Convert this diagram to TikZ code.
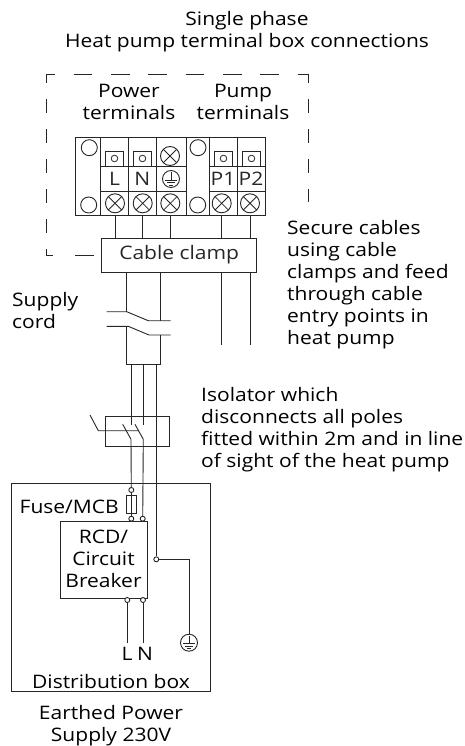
\documentclass[tikz,border=0pt]{standalone}
\usepackage{fontspec}
\setmainfont[FakeStretch=1.13]{Open Sans}
\tikzset{
  wire/.style={draw,line width=0.9pt,black!85},
  label/.style={inner sep=0pt,align=center,font=\fontsize{18.6}{22}\selectfont},
  notes/.style={label,align=left,anchor=north west},
  box/.style={draw,line width=0.9pt,black!85,inner sep=0pt},
  cell/.style={box,minimum height=25pt,font=\fontsize{18.6}{20}\selectfont},
  hole/.style={box,circle,minimum size=16pt},
  tiny/.style={box,circle,fill=white,minimum size=5pt},
  xterm/.style={box,circle,minimum size=19pt,path picture={
    \draw[line width=0.8pt] (path picture bounding box.north west) -- (path picture bounding box.south east);
    \draw[line width=0.8pt] (path picture bounding box.north east) -- (path picture bounding box.south west);}},
  sqterm/.style={box,minimum width=18pt,minimum height=15pt,path picture={
    \draw[line width=0.8pt] (path picture bounding box.center) circle (3.3pt);}},
  earth/.style={box,circle,minimum size=17pt,path picture={
    \draw[line width=0.7pt] ([yshift=7pt]path picture bounding box.center) -- ([yshift=-1pt]path picture bounding box.center);
    \draw[line width=0.7pt] ([shift={(-6pt,-1pt)}]path picture bounding box.center) -- ([shift={(6pt,-1pt)}]path picture bounding box.center);
    \draw[line width=0.7pt] ([shift={(-4pt,-3.5pt)}]path picture bounding box.center) -- ([shift={(4pt,-3.5pt)}]path picture bounding box.center);
    \draw[line width=0.7pt] ([shift={(-2pt,-6pt)}]path picture bounding box.center) -- ([shift={(2pt,-6pt)}]path picture bounding box.center);}}
}
\begin{document}
\begin{tikzpicture}[x=1pt,y=-1pt]
\useasboundingbox (0,0) rectangle (464,746);

\node[label] (title) at (247,32) {Single phase\\Heat pump terminal box connections};
\node[label] (powerlab) at (129,101.5) {Power\\terminals};
\node[label] (pumplab) at (243,101.5) {Pump\\terminals};

% terminal block
\node[box,minimum width=189.3pt,minimum height=77.6pt] (block) at (170.35,176.5) {};
\foreach \i/\x in {a/100.7,b/128.3,c/156.3,d/186,e/209,f/237}
  \path[draw,line width=0.9pt,black!85] (block.north -| {\x,0}) -- (block.south -| {\x,0});

\node[cell,minimum width=27.6pt] (cL) at (114.5,178.6) {L};
\node[cell,minimum width=27.9pt] (cN) at (142.3,178.6) {N};
\node[cell,minimum width=29.7pt] (cE) at (171.15,178.6) {};
\node[cell,minimum width=28pt] (cP1) at (223,178.6) {P1};
\node[cell,minimum width=28pt] (cP2) at (251,178.6) {P2};
\node[earth] (eT) at (171,179) {};

\node[hole] (h1) at (89.3,147.7) {};
\node[hole] (h2) at (88.7,205) {};
\node[hole] (h3) at (198,147.7) {};
\node[hole] (h4) at (197.7,205) {};

\node[sqterm] (sL) at (114.5,158.5) {};
\node[sqterm] (sN) at (142.5,158.5) {};
\node[sqterm] (sP1) at (223.5,158.5) {};
\node[sqterm] (sP2) at (251.5,158.5) {};

\node[xterm] (xE) at (170,156) {};
\node[xterm] (x1) at (115,203.3) {};
\node[xterm] (x2) at (142.7,203.3) {};
\node[xterm] (x3) at (170.3,203.3) {};
\node[xterm] (x4) at (221.7,203.3) {};
\node[xterm] (x5) at (250,203.3) {};

% clamp and the outline of the box
\node[box,minimum width=155pt,minimum height=34pt,font=\fontsize{18.6}{22}\selectfont] (clamp) at (179.2,255) {Cable clamp\hspace{8pt}};
\coordinate (cnrTL) at (46,74);
\coordinate (cnrTR) at (308,74);
\coordinate (cnrBL) at (46,255);
\coordinate (endR) at (308,202);
\path[draw,line width=0.9pt,black!85,dash pattern=on 18.5pt off 18.8pt,dash phase=9.5pt] (cnrTL) -- (cnrTR);
\path[draw,line width=0.9pt,black!85,dash pattern=on 14pt off 16pt,dash phase=5pt] (cnrTL) -- (cnrBL);
\path[draw,line width=0.9pt,black!85,dash pattern=on 14pt off 16pt,dash phase=5pt] (cnrTR) -- (endR);
\path[draw,line width=0.9pt,black!85,dash pattern=on 18.5pt off 22pt,dash phase=11.5pt] (cnrBL) -- (clamp.west);

\path[wire] (block.south -| x1) -- (clamp.north -| x1);
\path[wire] (block.south -| x2) -- (clamp.north -| x2);
\path[wire] (block.south -| x3) -- (clamp.north -| x3);
\path[wire] (block.south -| x4) -- (clamp.north -| x4);
\path[wire] (block.south -| x5) -- (clamp.north -| x5);

\coordinate (p1) at (221.7,345);
\coordinate (p2) at (250,345);
\path[wire] (clamp.south -| p1) -- (p1);
\path[wire] (clamp.south -| p2) -- (p2);

% supply cord with break
\coordinate (cordL) at (126.7,364);
\coordinate (cordR) at (160,364);
\coordinate (brA) at (126.7,311.7);
\coordinate (brB) at (160,320.7);
\coordinate (brC) at (128.3,326.3);
\coordinate (brD) at (160,335);
\path[wire] (clamp.south -| brA) -- (brA);
\path[wire] (clamp.south -| brB) -- (brB);
\path[wire] (106.7,311.7) -- (brA) -- (148.3,320.7) -- (170.7,320.7);
\path[wire] (106.7,326.3) -- (brC) -- (149,335) -- (170.7,335);
\path[wire] (126.7,326.3) -- (cordL) -- (cordR) -- (brD);

\node[notes] (cordlab) at (12,292) {Supply\\cord};
\node[notes] (securelab) at (287,220) {Secure cables\\using cable\\clamps and feed\\through cable\\entry points in\\heat pump};
\node[notes] (isolab) at (201,387.5) {Isolator which\\disconnects all poles\\fitted within 2m and in line\\of sight of the heat pump};

% isolator
\node[box,minimum width=63.6pt,minimum height=30.3pt] (iso) at (137.5,431.2) {};
\coordinate (swL) at (131,425);
\coordinate (swN) at (143.3,425);
\coordinate (swLb) at (131,439.3);
\coordinate (swNb) at (143.3,439.3);
\path[wire] (cordL -| swL) -- (swL);
\path[wire] (cordL -| swN) -- (swN);
\path[wire] (122.7,424.3) -- (swLb);
\path[wire] (135,424.3) -- (swNb);
\path[wire] (90,415) -- (98.3,430.7) -- (139,430.7);

% distribution box
\node[box,minimum width=198.3pt,minimum height=207.7pt] (dist) at (110.85,587.2) {};
\node[box,minimum width=87pt,minimum height=76.3pt] (rcd) at (103.5,559.9) {};
\node[label] (rcdlab) at (103.5,558.4) {RCD/\\Circuit\\Breaker};
\node[box,minimum width=9.3pt,minimum height=18.3pt] (fuse) at (131.3,504.2) {};
\node[label,anchor=east] (fuselab) at (119,506.7) {Fuse/MCB};

\node[tiny] (f1) at (131.3,490) {};
\node[tiny] (f2) at (131.3,518.7) {};
\node[tiny] (n1) at (142.7,518.7) {};
\node[tiny] (g1) at (156.3,559.3) {};
\node[tiny] (r1) at (127.3,600) {};
\node[tiny] (r2) at (143,600) {};
\node[earth] (gnd) at (189,642.7) {};

\path[wire] (swLb) -- (f1);
\path[wire] (f1) -- (f2);
\path[wire] (swNb) -- (n1);
\path[wire] (156.3,364) -- (g1);
\path[wire] (g1) -| (gnd);

\node[label] (Llab) at (127,654) {L};
\node[label] (Nlab) at (145,654) {N};
\coordinate (rL) at (127.3,642.7);
\coordinate (rN) at (143,642.7);
\path[wire] (r1) -- (rL);
\path[wire] (r2) -- (rN);

\node[label] (distlab) at (111,681.5) {Distribution box};
\node[label] (supplylab) at (111,726) {Earthed Power\\Supply 230V};
\end{tikzpicture}
\end{document}
